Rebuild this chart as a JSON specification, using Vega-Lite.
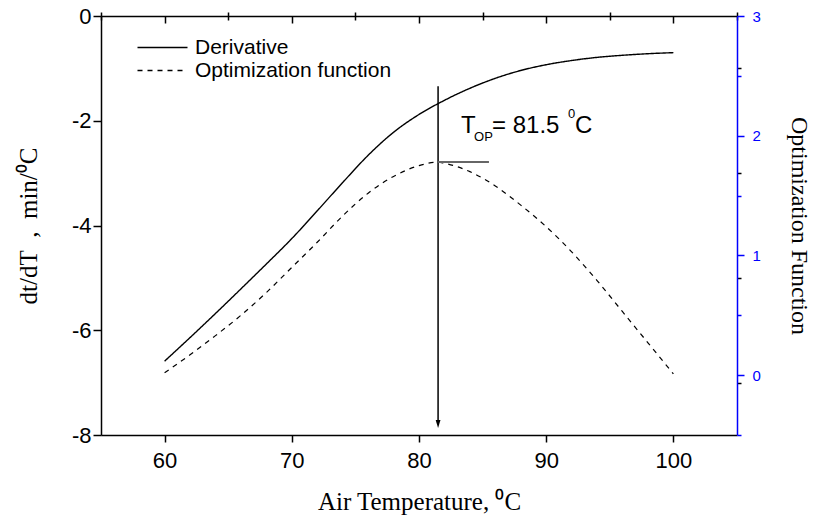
{
  "$schema": "https://vega.github.io/schema/vega-lite/v6.json",
  "width": 636,
  "height": 419,
  "autosize": {"type": "none"},
  "padding": {"left": 101, "top": 16, "right": 78, "bottom": 82},
  "background": "white",
  "config": {
    "view": {"stroke": null},
    "axis": {"grid": false, "labelFont": "Liberation Sans", "titleFont": "Liberation Serif", "titleFontWeight": "normal", "labelColor": "black", "titleColor": "black", "domainColor": "black", "tickColor": "black", "domainWidth": 1.5, "tickWidth": 1.5}
  },
  "data": {"values": [
    {"T": 60, "value": -6.59, "series": "Derivative"},
    {"T": 62, "value": -6.14, "series": "Derivative"},
    {"T": 64, "value": -5.68, "series": "Derivative"},
    {"T": 66, "value": -5.21, "series": "Derivative"},
    {"T": 68, "value": -4.735, "series": "Derivative"},
    {"T": 70, "value": -4.25, "series": "Derivative"},
    {"T": 72, "value": -3.72, "series": "Derivative"},
    {"T": 74, "value": -3.18, "series": "Derivative"},
    {"T": 76, "value": -2.66, "series": "Derivative"},
    {"T": 78, "value": -2.22, "series": "Derivative"},
    {"T": 80, "value": -1.88, "series": "Derivative"},
    {"T": 82, "value": -1.61, "series": "Derivative"},
    {"T": 84, "value": -1.38, "series": "Derivative"},
    {"T": 86, "value": -1.19, "series": "Derivative"},
    {"T": 88, "value": -1.04, "series": "Derivative"},
    {"T": 90, "value": -0.93, "series": "Derivative"},
    {"T": 92, "value": -0.85, "series": "Derivative"},
    {"T": 94, "value": -0.79, "series": "Derivative"},
    {"T": 96, "value": -0.75, "series": "Derivative"},
    {"T": 98, "value": -0.72, "series": "Derivative"},
    {"T": 100, "value": -0.70, "series": "Derivative"},
    {"T": 60, "value": 0.02, "series": "Optimization function"},
    {"T": 62, "value": 0.17, "series": "Optimization function"},
    {"T": 64, "value": 0.33, "series": "Optimization function"},
    {"T": 66, "value": 0.50, "series": "Optimization function"},
    {"T": 68, "value": 0.69, "series": "Optimization function"},
    {"T": 70, "value": 0.90, "series": "Optimization function"},
    {"T": 72, "value": 1.11, "series": "Optimization function"},
    {"T": 74, "value": 1.33, "series": "Optimization function"},
    {"T": 76, "value": 1.52, "series": "Optimization function"},
    {"T": 78, "value": 1.66, "series": "Optimization function"},
    {"T": 80, "value": 1.75, "series": "Optimization function"},
    {"T": 81.5, "value": 1.78, "series": "Optimization function"},
    {"T": 82, "value": 1.77, "series": "Optimization function"},
    {"T": 84, "value": 1.70, "series": "Optimization function"},
    {"T": 86, "value": 1.58, "series": "Optimization function"},
    {"T": 88, "value": 1.42, "series": "Optimization function"},
    {"T": 90, "value": 1.24, "series": "Optimization function"},
    {"T": 92, "value": 1.03, "series": "Optimization function"},
    {"T": 94, "value": 0.79, "series": "Optimization function"},
    {"T": 96, "value": 0.53, "series": "Optimization function"},
    {"T": 98, "value": 0.27, "series": "Optimization function"},
    {"T": 100, "value": 0.01, "series": "Optimization function"}
  ]},
  "layer": [
    {
      "transform": [{"filter": "datum.series === 'Derivative'"}],
      "mark": {"type": "line", "color": "black", "strokeWidth": 1.4, "interpolate": "monotone"},
      "encoding": {
        "x": {"field": "T", "type": "quantitative",
          "scale": {"domain": [55, 105], "nice": false, "zero": false},
          "axis": {"values": [60, 70, 80, 90, 100], "labelExpr": "'' + datum.value",
            "tickSize": 7, "labelFontSize": 22, "labelPadding": 8,
            "title": "Air Temperature, ⁰C", "titleFontSize": 25, "titlePadding": 18}},
        "y": {"field": "value", "type": "quantitative",
          "scale": {"domain": [-8, 0], "nice": false, "zero": false},
          "axis": {"values": [-8, -6, -4, -2, 0], "labelExpr": "'' + datum.value",
            "tickSize": 8, "labelFontSize": 22, "labelPadding": 2,
            "title": "dt/dT\u2002,\u2002min/⁰C", "titleFontSize": 25, "titlePadding": 30}},
        "strokeDash": {"field": "series", "type": "nominal",
          "scale": {"domain": ["Derivative", "Optimization function"], "range": [[1, 0], [5, 5]]},
          "legend": {"title": null, "orient": "none", "legendX": 51, "legendY": 21,
            "symbolType": "M-5,0H5", "symbolSize": 100, "symbolStrokeWidth": 1.3, "symbolStrokeColor": "black", "symbolFillColor": "transparent",
            "labelFont": "Liberation Sans", "labelFontSize": 21, "labelColor": "black", "labelOffset": 22,
            "labelLimit": 400, "rowPadding": 1}}
      }
    },
    {
      "data": {"values": [{"T": 81.5, "top": -1.34, "bottom": -7.75}]},
      "mark": {"type": "rule", "color": "black", "strokeWidth": 1.5},
      "encoding": {
        "x": {"field": "T", "type": "quantitative",
          "scale": {"domain": [55, 105], "nice": false, "zero": false},
          "axis": {"values": [55, 65, 75, 85, 95, 105], "labels": false, "domain": false, "tickSize": 4, "title": null}},
        "y": {"field": "top", "type": "quantitative",
          "scale": {"domain": [-8, 0], "nice": false, "zero": false},
          "axis": {"values": [-7, -5, -3, -1], "labels": false, "domain": false, "tickSize": 4, "title": null}},
        "y2": {"field": "bottom"}
      }
    },
    {
      "data": {"values": [{"T": 81.5, "tip": -7.79}]},
      "mark": {"type": "point", "shape": "M-0.6,-1L0.6,-1L0,1Z", "size": 64, "filled": true, "color": "black", "opacity": 1},
      "encoding": {
        "x": {"field": "T", "type": "quantitative",
          "scale": {"domain": [55, 105], "nice": false, "zero": false},
          "axis": {"orient": "top", "values": [60, 70, 80, 90, 100], "labels": false, "tickSize": -7, "title": null}},
        "y": {"field": "tip", "type": "quantitative",
          "scale": {"domain": [-8, 0], "nice": false, "zero": false}, "axis": null}
      }
    },
    {
      "data": {"values": [{"T": 83.3, "v": -2.234, "label": "T"}]},
      "mark": {"type": "text", "align": "left", "baseline": "alphabetic", "font": "Liberation Sans", "fontSize": 24, "color": "black"},
      "encoding": {
        "x": {"field": "T", "type": "quantitative",
          "scale": {"domain": [55, 105], "nice": false, "zero": false},
          "axis": {"orient": "top", "values": [55, 65, 75, 85, 95, 105], "labels": false, "domain": false, "tickSize": -4, "title": null}},
        "y": {"field": "v", "type": "quantitative",
          "scale": {"domain": [-8, 0], "nice": false, "zero": false}, "axis": null},
        "text": {"field": "label"}
      }
    },
    {
      "data": {"values": [{"T": 84.33, "v": -2.39, "label": "OP"}]},
      "mark": {"type": "text", "align": "left", "baseline": "alphabetic", "font": "Liberation Sans", "fontSize": 13, "color": "black"},
      "encoding": {
        "x": {"field": "T", "type": "quantitative", "scale": {"domain": [55, 105], "nice": false, "zero": false}, "axis": null},
        "y": {"field": "v", "type": "quantitative", "scale": {"domain": [-8, 0], "nice": false, "zero": false}, "axis": null},
        "text": {"field": "label"}
      }
    },
    {
      "data": {"values": [{"T": 85.74, "v": -2.234, "label": "= 81.5"}]},
      "mark": {"type": "text", "align": "left", "baseline": "alphabetic", "font": "Liberation Sans", "fontSize": 24, "color": "black"},
      "encoding": {
        "x": {"field": "T", "type": "quantitative", "scale": {"domain": [55, 105], "nice": false, "zero": false}, "axis": null},
        "y": {"field": "v", "type": "quantitative", "scale": {"domain": [-8, 0], "nice": false, "zero": false}, "axis": null},
        "text": {"field": "label"}
      }
    },
    {
      "data": {"values": [{"T": 91.71, "v": -1.948, "label": "0"}]},
      "mark": {"type": "text", "align": "left", "baseline": "alphabetic", "font": "Liberation Sans", "fontSize": 13, "color": "black"},
      "encoding": {
        "x": {"field": "T", "type": "quantitative", "scale": {"domain": [55, 105], "nice": false, "zero": false}, "axis": null},
        "y": {"field": "v", "type": "quantitative", "scale": {"domain": [-8, 0], "nice": false, "zero": false}, "axis": null},
        "text": {"field": "label"}
      }
    },
    {
      "data": {"values": [{"T": 92.26, "v": -2.234, "label": "C"}]},
      "mark": {"type": "text", "align": "left", "baseline": "alphabetic", "font": "Liberation Sans", "fontSize": 24, "color": "black"},
      "encoding": {
        "x": {"field": "T", "type": "quantitative", "scale": {"domain": [55, 105], "nice": false, "zero": false}, "axis": null},
        "y": {"field": "v", "type": "quantitative", "scale": {"domain": [-8, 0], "nice": false, "zero": false}, "axis": null},
        "text": {"field": "label"}
      }
    },
    {
      "transform": [{"filter": "datum.series === 'Optimization function'"}],
      "mark": {"type": "line", "color": "black", "strokeWidth": 1.2, "interpolate": "monotone"},
      "encoding": {
        "x": {"field": "T", "type": "quantitative", "scale": {"domain": [55, 105], "nice": false, "zero": false}, "axis": null},
        "y": {"field": "value", "type": "quantitative",
          "scale": {"domain": [-0.5, 3], "nice": false, "zero": false},
          "axis": {"orient": "right", "values": [0, 1, 2, 3], "labelExpr": "'' + datum.value",
            "tickSize": 7, "domainColor": "#0000ff", "tickColor": "#0000ff", "labelColor": "#0000ff",
            "labelFontSize": 15, "labelPadding": 8,
            "title": "Optimization Function", "titleAngle": 90, "titleFontSize": 24, "titlePadding": 26}},
        "strokeDash": {"field": "series", "type": "nominal",
          "scale": {"domain": ["Derivative", "Optimization function"], "range": [[1, 0], [5, 5]]}}
      }
    },
    {
      "data": {"values": [{"T": 81.5, "T2": 85.5, "v": 1.78}]},
      "mark": {"type": "rule", "color": "#666666", "strokeWidth": 2},
      "encoding": {
        "x": {"field": "T", "type": "quantitative", "scale": {"domain": [55, 105], "nice": false, "zero": false}, "axis": null},
        "x2": {"field": "T2"},
        "y": {"field": "v", "type": "quantitative",
          "scale": {"domain": [-0.5, 3], "nice": false, "zero": false},
          "axis": {"orient": "right", "values": [-0.5, 0.5, 1.5, 2.5], "labels": false, "domain": false,
            "tickSize": 4, "tickColor": "#0000ff", "title": null}}
      }
    }
  ],
  "resolve": {"scale": {"y": "independent"}, "axis": {"x": "independent", "y": "independent"}}
}
